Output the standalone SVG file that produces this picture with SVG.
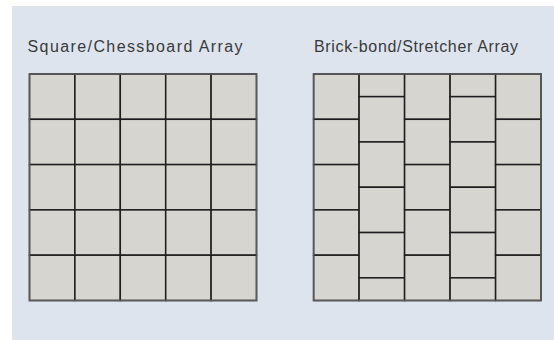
<svg xmlns="http://www.w3.org/2000/svg" width="554" height="340" viewBox="0 0 554 340">
<style>
.bg{fill:#dde4ee}
.tile{fill:#d7d5cf;stroke:#1e1e1e;stroke-width:1.5}
.frame{fill:none;stroke:#5a5a5a;stroke-width:1.5}
.title{font-family:"Liberation Sans",Arial,sans-serif;font-size:16px;fill:#3a3a3a}
</style>
<rect x="0" y="0" width="554" height="340" fill="#ffffff"/>
<rect class="bg" x="12" y="6" width="542" height="334"/>
<text class="title" x="27.5" y="52" textLength="215" lengthAdjust="spacing">Square/Chessboard Array</text>
<text class="title" x="314" y="52" textLength="204" lengthAdjust="spacing">Brick-bond/Stretcher Array</text>
<g id="chessboard">
<g id="c-col1"><rect class="tile" x="29.5" y="74" width="45.4" height="45.3"/><rect class="tile" x="29.5" y="119.3" width="45.4" height="45.3"/><rect class="tile" x="29.5" y="164.6" width="45.4" height="45.3"/><rect class="tile" x="29.5" y="209.9" width="45.4" height="45.3"/><rect class="tile" x="29.5" y="255.2" width="45.4" height="45.3"/></g>
<g id="c-col2"><rect class="tile" x="74.9" y="74" width="45.4" height="45.3"/><rect class="tile" x="74.9" y="119.3" width="45.4" height="45.3"/><rect class="tile" x="74.9" y="164.6" width="45.4" height="45.3"/><rect class="tile" x="74.9" y="209.9" width="45.4" height="45.3"/><rect class="tile" x="74.9" y="255.2" width="45.4" height="45.3"/></g>
<g id="c-col3"><rect class="tile" x="120.3" y="74" width="45.4" height="45.3"/><rect class="tile" x="120.3" y="119.3" width="45.4" height="45.3"/><rect class="tile" x="120.3" y="164.6" width="45.4" height="45.3"/><rect class="tile" x="120.3" y="209.9" width="45.4" height="45.3"/><rect class="tile" x="120.3" y="255.2" width="45.4" height="45.3"/></g>
<g id="c-col4"><rect class="tile" x="165.7" y="74" width="45.4" height="45.3"/><rect class="tile" x="165.7" y="119.3" width="45.4" height="45.3"/><rect class="tile" x="165.7" y="164.6" width="45.4" height="45.3"/><rect class="tile" x="165.7" y="209.9" width="45.4" height="45.3"/><rect class="tile" x="165.7" y="255.2" width="45.4" height="45.3"/></g>
<g id="c-col5"><rect class="tile" x="211.1" y="74" width="45.4" height="45.3"/><rect class="tile" x="211.1" y="119.3" width="45.4" height="45.3"/><rect class="tile" x="211.1" y="164.6" width="45.4" height="45.3"/><rect class="tile" x="211.1" y="209.9" width="45.4" height="45.3"/><rect class="tile" x="211.1" y="255.2" width="45.4" height="45.3"/></g>
<rect class="frame" x="29.5" y="74" width="227" height="226.5"/>
</g>
<g id="brickbond">
<g id="b-col1"><rect class="tile" x="313.6" y="74" width="45.5" height="45.3"/><rect class="tile" x="313.6" y="119.3" width="45.5" height="45.3"/><rect class="tile" x="313.6" y="164.6" width="45.5" height="45.3"/><rect class="tile" x="313.6" y="209.9" width="45.5" height="45.3"/><rect class="tile" x="313.6" y="255.2" width="45.5" height="45.3"/></g>
<g id="b-col2"><rect class="tile" x="359.1" y="74" width="45.5" height="22.65"/><rect class="tile" x="359.1" y="96.65" width="45.5" height="45.3"/><rect class="tile" x="359.1" y="141.95" width="45.5" height="45.3"/><rect class="tile" x="359.1" y="187.25" width="45.5" height="45.3"/><rect class="tile" x="359.1" y="232.55" width="45.5" height="45.3"/><rect class="tile" x="359.1" y="277.85" width="45.5" height="22.65"/></g>
<g id="b-col3"><rect class="tile" x="404.6" y="74" width="45.5" height="45.3"/><rect class="tile" x="404.6" y="119.3" width="45.5" height="45.3"/><rect class="tile" x="404.6" y="164.6" width="45.5" height="45.3"/><rect class="tile" x="404.6" y="209.9" width="45.5" height="45.3"/><rect class="tile" x="404.6" y="255.2" width="45.5" height="45.3"/></g>
<g id="b-col4"><rect class="tile" x="450.1" y="74" width="45.5" height="22.65"/><rect class="tile" x="450.1" y="96.65" width="45.5" height="45.3"/><rect class="tile" x="450.1" y="141.95" width="45.5" height="45.3"/><rect class="tile" x="450.1" y="187.25" width="45.5" height="45.3"/><rect class="tile" x="450.1" y="232.55" width="45.5" height="45.3"/><rect class="tile" x="450.1" y="277.85" width="45.5" height="22.65"/></g>
<g id="b-col5"><rect class="tile" x="495.6" y="74" width="45.4" height="45.3"/><rect class="tile" x="495.6" y="119.3" width="45.4" height="45.3"/><rect class="tile" x="495.6" y="164.6" width="45.4" height="45.3"/><rect class="tile" x="495.6" y="209.9" width="45.4" height="45.3"/><rect class="tile" x="495.6" y="255.2" width="45.4" height="45.3"/></g>
<rect class="frame" x="313.6" y="74" width="227.4" height="226.5"/>
</g>
</svg>
